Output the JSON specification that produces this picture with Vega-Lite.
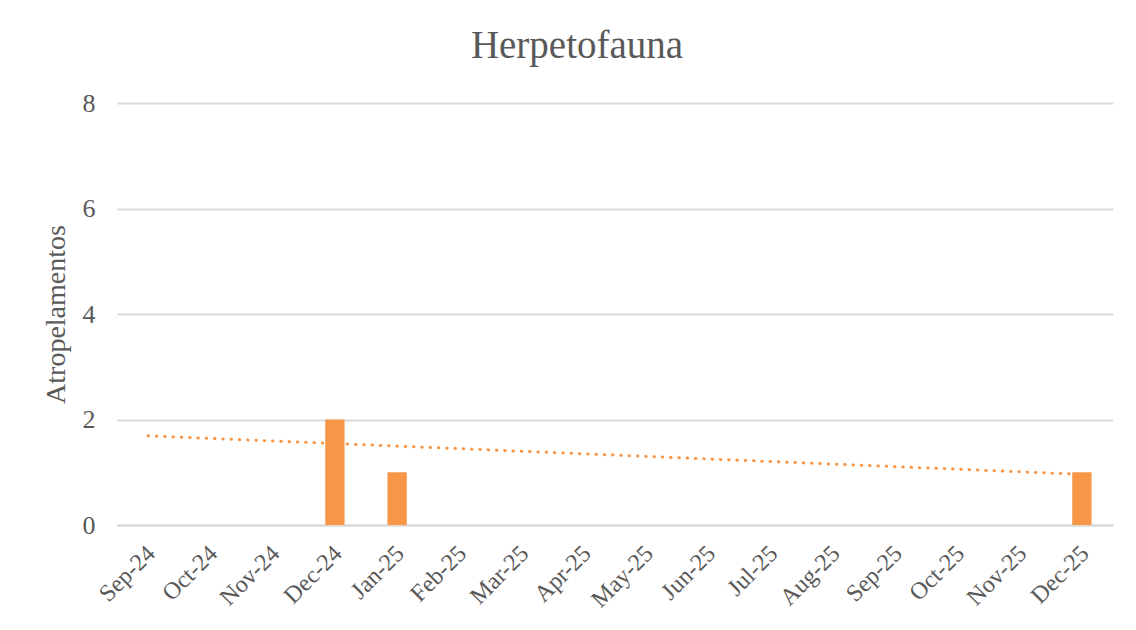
{
  "$schema": "https://vega.github.io/schema/vega-lite/v6.json",
  "autosize": {"type": "none"},
  "width": 996,
  "height": 422,
  "padding": {"left": 117, "top": 103, "right": 23, "bottom": 105},
  "background": "white",
  "title": {
    "text": "Herpetofauna",
    "font": "Liberation Serif",
    "fontSize": 39,
    "fontWeight": "normal",
    "color": "#595959",
    "anchor": "middle",
    "dx": -38,
    "dy": 47,
    "baseline": "alphabetic",
    "offset": 40
  },
  "datasets": {
    "counts": [
      {"month": "Sep-24", "count": null},
      {"month": "Oct-24", "count": null},
      {"month": "Nov-24", "count": null},
      {"month": "Dec-24", "count": 2},
      {"month": "Jan-25", "count": 1},
      {"month": "Feb-25", "count": null},
      {"month": "Mar-25", "count": null},
      {"month": "Apr-25", "count": null},
      {"month": "May-25", "count": null},
      {"month": "Jun-25", "count": null},
      {"month": "Jul-25", "count": null},
      {"month": "Aug-25", "count": null},
      {"month": "Sep-25", "count": null},
      {"month": "Oct-25", "count": null},
      {"month": "Nov-25", "count": null},
      {"month": "Dec-25", "count": 1}
    ],
    "trend": [
      {"month": "Sep-24", "trend": 1.69},
      {"month": "Dec-25", "trend": 0.96}
    ]
  },
  "config": {
    "view": {"stroke": null},
    "font": "Liberation Serif",
    "axis": {
      "labelFont": "Liberation Serif",
      "titleFont": "Liberation Serif",
      "labelColor": "#595959",
      "titleColor": "#595959",
      "labelFontSize": 26,
      "titleFontSize": 28,
      "titleFontWeight": "normal"
    }
  },
  "layer": [
    {
      "data": {"name": "counts"},
      "mark": {"type": "bar", "color": "#F79646"},
      "encoding": {
        "x": {
          "field": "month",
          "type": "nominal",
          "sort": null,
          "scale": {
            "domain": ["Sep-24", "Oct-24", "Nov-24", "Dec-24", "Jan-25", "Feb-25", "Mar-25", "Apr-25", "May-25", "Jun-25", "Jul-25", "Aug-25", "Sep-25", "Oct-25", "Nov-25", "Dec-25"],
            "paddingInner": 0.69,
            "paddingOuter": 0.345
          },
          "axis": {
            "title": null,
            "labelAngle": -45,
            "labelFontSize": 24,
            "ticks": false,
            "domain": true,
            "domainColor": "#d9d9d9",
            "domainWidth": 2,
            "labelPadding": 16,
            "labelOffset": -5,
            "grid": false
          }
        },
        "y": {
          "field": "count",
          "type": "quantitative",
          "scale": {"domain": [0, 8]},
          "axis": {
            "title": "Atropelamentos",
            "values": [0, 2, 4, 6, 8],
            "ticks": false,
            "domain": false,
            "grid": true,
            "gridColor": "#d9d9d9",
            "gridWidth": 2,
            "labelPadding": 22,
            "titlePadding": 12
          }
        }
      }
    },
    {
      "data": {"name": "trend"},
      "mark": {
        "type": "line",
        "color": "#F79646",
        "strokeWidth": 3,
        "strokeCap": "round",
        "strokeDash": [0.5, 7.8]
      },
      "encoding": {
        "x": {"field": "month", "type": "nominal", "sort": null},
        "y": {"field": "trend", "type": "quantitative"}
      }
    }
  ]
}
